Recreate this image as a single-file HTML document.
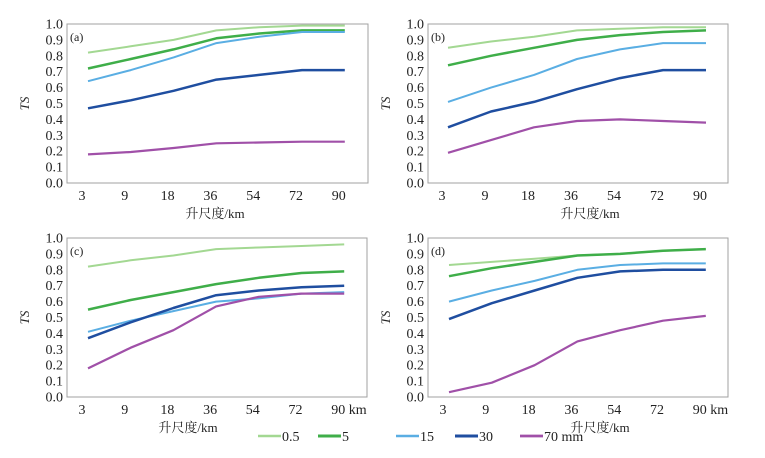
<!DOCTYPE html>
<html><head><meta charset="utf-8"><style>
body{margin:0;background:#fff;}
svg text{font-family:"Liberation Serif","Noto Serif CJK SC",serif;fill:#222;}
</style></head><body>
<svg id="chart" width="765" height="453" xmlns="http://www.w3.org/2000/svg"></svg>
<script>
const categories=["3","9","18","36","54","72","90"];
const yTicks=["0.0","0.1","0.2","0.3","0.4","0.5","0.6","0.7","0.8","0.9","1.0"];
const seriesNames=["0.5","5","15","30","70 mm"];
const panelA_05=[.82,.86,.90,.96,.98,.99,.99];
const panelA_5=[.72,.78,.84,.91,.94,.96,.96];
const panelA_15=[.64,.71,.79,.88,.92,.95,.95];
const panelA_30=[.47,.52,.58,.65,.68,.71,.71];
const panelA_70=[.18,.195,.22,.25,.255,.26,.26];
const panelB_05=[.85,.89,.92,.96,.97,.98,.98];
const panelB_5=[.74,.80,.85,.90,.93,.95,.96];
const panelB_15=[.51,.60,.68,.78,.84,.88,.88];
const panelB_30=[.35,.45,.51,.59,.66,.71,.71];
const panelB_70=[.19,.27,.35,.39,.40,.39,.38];
const panelC_05=[.82,.86,.89,.93,.94,.95,.96];
const panelC_5=[.55,.61,.66,.71,.75,.78,.79];
const panelC_15=[.41,.48,.54,.60,.62,.65,.66];
const panelC_30=[.37,.47,.56,.64,.67,.69,.70];
const panelC_70=[.18,.31,.42,.57,.63,.65,.65];
const panelD_05=[.83,.85,.87,.89,.90,.92,.93];
const panelD_5=[.76,.81,.85,.89,.90,.92,.93];
const panelD_15=[.60,.67,.73,.80,.83,.84,.84];
const panelD_30=[.49,.59,.67,.75,.79,.80,.80];
const panelD_70=[.03,.09,.20,.35,.42,.48,.51];

const colors=["#a3d892","#3fae49","#5aaee3","#1f4ea0","#a050a8"];
const widths=[2,2.5,2,2.5,2.2];
const NS="http://www.w3.org/2000/svg";
const svg=document.getElementById('chart');
function mk(tag,attrs,parent){const e=document.createElementNS(NS,tag);for(const k in attrs)e.setAttribute(k,attrs[k]);(parent||svg).appendChild(e);return e;}

const panels=[
 {id:"a",x0:67,x1:368,y0:24,y1:183,t0:82,step:42.8,unit:false,title:215,data:[panelA_05,panelA_5,panelA_15,panelA_30,panelA_70]},
 {id:"b",x0:428,x1:728,y0:24,y1:183,t0:442,step:43,unit:false,title:590,data:[panelB_05,panelB_5,panelB_15,panelB_30,panelB_70]},
 {id:"c",x0:67,x1:367,y0:238,y1:397,t0:82,step:42.7,unit:true,title:188,data:[panelC_05,panelC_5,panelC_15,panelC_30,panelC_70]},
 {id:"d",x0:428,x1:728,y0:238,y1:397,t0:443,step:42.8,unit:true,title:600,data:[panelD_05,panelD_5,panelD_15,panelD_30,panelD_70]}
];
panels.forEach(p=>{
  const g=mk('g',{});
  
  
  const ys=v=>p.y1-(v)*(p.y1-p.y0);
  const xs=i=>p.t0+i*p.step;
  const fr=mk('rect',{x:p.x0,y:p.y0,width:p.x1-p.x0,height:p.y1-p.y0,fill:'none',stroke:'#a0a0a0','stroke-width':1},g);
  
  
  yTicks.forEach((t,i)=>{
    const tx=mk('text',{x:p.x0-4,y:ys(+t)+4.5,'text-anchor':'end','font-size':14},g);
    
    
    tx.textContent=t;
  });
  categories.forEach((c,i)=>{
    const last=p.unit&&i===categories.length-1;
    const tx=mk('text',{x:last?xs(i)-7:xs(i),y:p.y1+17,'text-anchor':last?'start':'middle','font-size':14},g);
    
    
    tx.textContent=last?c+" km":c;
  });
  const yl=mk('text',{x:0,y:0,'font-size':13,'font-style':'italic','text-anchor':'middle',transform:`translate(${p.x0-38},${(p.y0+p.y1)/2}) rotate(-90)`},g);
  
  
  yl.textContent="TS";
  const xt=mk('text',{x:p.title,y:p.y1+35,'text-anchor':'middle','font-size':13},g);
  
  
  xt.textContent="升尺度/km";
  const lb=mk('text',{x:p.x0+3,y:p.y0+17,'font-size':12},g);
  
  
  lb.textContent="("+p.id+")";
  p.data.forEach((arr,s)=>{
    const pts=arr.map((v,i)=>(xs(i)+6).toFixed(1)+","+ys(v).toFixed(1)).join(" ");
    const pl=mk('polyline',{points:pts,fill:'none',stroke:colors[s],'stroke-width':widths[s],'stroke-linejoin':'round'},g);
    
    
  });
});
const legX=[258,318,396,455,520];
const lg=mk('g',{});


seriesNames.forEach((n,i)=>{
  const ln=mk('line',{x1:legX[i],x2:legX[i]+23,y1:436,y2:436,stroke:colors[i],'stroke-width':widths[i]+0.5},lg);
  
  
  const t=mk('text',{x:legX[i]+24,y:441,'font-size':14},lg);
  
  
  t.textContent=n;
});
</script>
</body></html>
